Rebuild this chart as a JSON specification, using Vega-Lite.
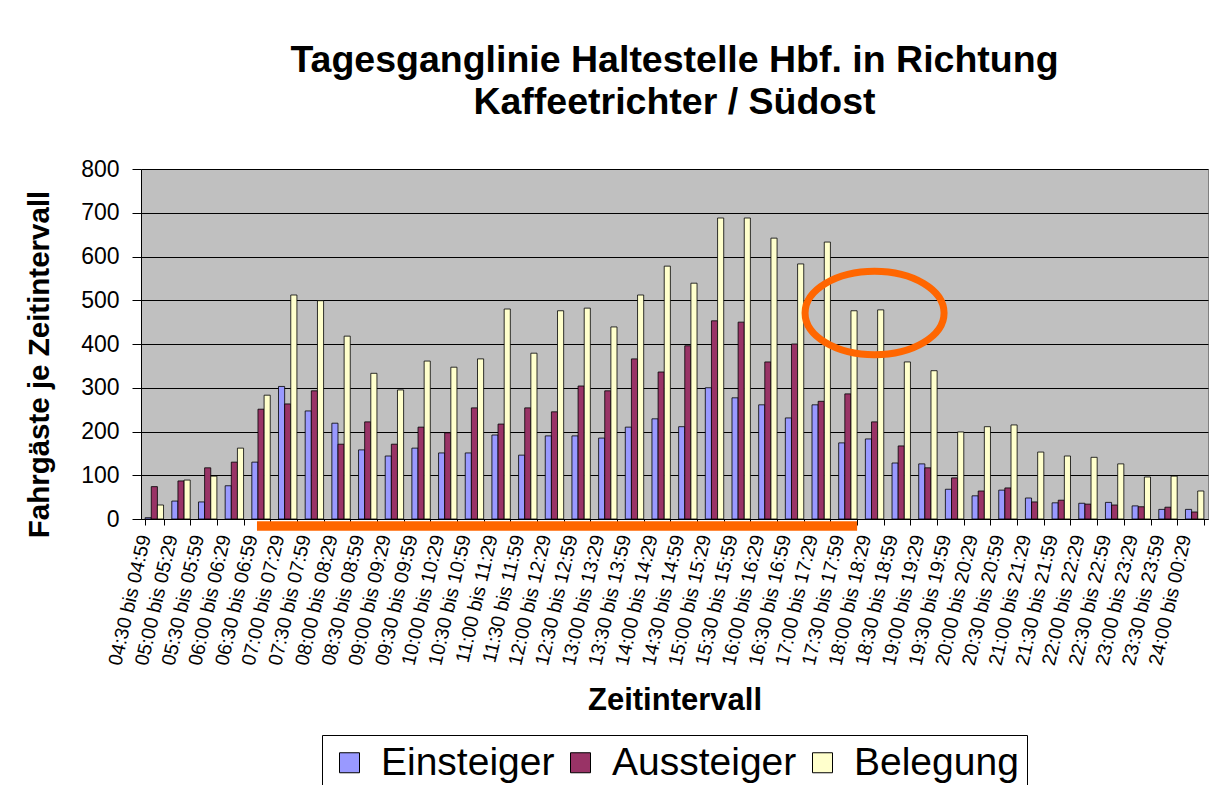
{
  "$schema": "https://vega.github.io/schema/vega-lite/v6.json",
  "width": 1067,
  "height": 350,
  "autosize": {"type": "none"},
  "padding": {"left": 141, "top": 169, "right": 8, "bottom": 266},
  "background": "white",
  "title": {
    "text": ["Tagesganglinie Haltestelle Hbf. in Richtung", "Kaffeetrichter / Südost"],
    "font": "Liberation Sans",
    "fontSize": 37.5,
    "fontWeight": "bold",
    "color": "black",
    "anchor": "middle",
    "frame": "group",
    "baseline": "bottom",
    "lineHeight": 42,
    "offset": -1
  },
  "config": {
    "font": "Liberation Sans",
    "view": {"fill": "#C0C0C0", "stroke": "#808080", "strokeWidth": 1}
  },
  "layer": [
    {
      "data": {
        "values": [
          {"Zeitintervall": "04:30 bis 04:59", "Reihe": "Einsteiger", "Anzahl": 3},
          {"Zeitintervall": "04:30 bis 04:59", "Reihe": "Aussteiger", "Anzahl": 74},
          {"Zeitintervall": "04:30 bis 04:59", "Reihe": "Belegung", "Anzahl": 32},
          {"Zeitintervall": "05:00 bis 05:29", "Reihe": "Einsteiger", "Anzahl": 41},
          {"Zeitintervall": "05:00 bis 05:29", "Reihe": "Aussteiger", "Anzahl": 87},
          {"Zeitintervall": "05:00 bis 05:29", "Reihe": "Belegung", "Anzahl": 89},
          {"Zeitintervall": "05:30 bis 05:59", "Reihe": "Einsteiger", "Anzahl": 39},
          {"Zeitintervall": "05:30 bis 05:59", "Reihe": "Aussteiger", "Anzahl": 117},
          {"Zeitintervall": "05:30 bis 05:59", "Reihe": "Belegung", "Anzahl": 98},
          {"Zeitintervall": "06:00 bis 06:29", "Reihe": "Einsteiger", "Anzahl": 76},
          {"Zeitintervall": "06:00 bis 06:29", "Reihe": "Aussteiger", "Anzahl": 130},
          {"Zeitintervall": "06:00 bis 06:29", "Reihe": "Belegung", "Anzahl": 162},
          {"Zeitintervall": "06:30 bis 06:59", "Reihe": "Einsteiger", "Anzahl": 130},
          {"Zeitintervall": "06:30 bis 06:59", "Reihe": "Aussteiger", "Anzahl": 251},
          {"Zeitintervall": "06:30 bis 06:59", "Reihe": "Belegung", "Anzahl": 283},
          {"Zeitintervall": "07:00 bis 07:29", "Reihe": "Einsteiger", "Anzahl": 303},
          {"Zeitintervall": "07:00 bis 07:29", "Reihe": "Aussteiger", "Anzahl": 263},
          {"Zeitintervall": "07:00 bis 07:29", "Reihe": "Belegung", "Anzahl": 512},
          {"Zeitintervall": "07:30 bis 07:59", "Reihe": "Einsteiger", "Anzahl": 247},
          {"Zeitintervall": "07:30 bis 07:59", "Reihe": "Aussteiger", "Anzahl": 293},
          {"Zeitintervall": "07:30 bis 07:59", "Reihe": "Belegung", "Anzahl": 499},
          {"Zeitintervall": "08:00 bis 08:29", "Reihe": "Einsteiger", "Anzahl": 219},
          {"Zeitintervall": "08:00 bis 08:29", "Reihe": "Aussteiger", "Anzahl": 171},
          {"Zeitintervall": "08:00 bis 08:29", "Reihe": "Belegung", "Anzahl": 418},
          {"Zeitintervall": "08:30 bis 08:59", "Reihe": "Einsteiger", "Anzahl": 158},
          {"Zeitintervall": "08:30 bis 08:59", "Reihe": "Aussteiger", "Anzahl": 222},
          {"Zeitintervall": "08:30 bis 08:59", "Reihe": "Belegung", "Anzahl": 333},
          {"Zeitintervall": "09:00 bis 09:29", "Reihe": "Einsteiger", "Anzahl": 144},
          {"Zeitintervall": "09:00 bis 09:29", "Reihe": "Aussteiger", "Anzahl": 171},
          {"Zeitintervall": "09:00 bis 09:29", "Reihe": "Belegung", "Anzahl": 295},
          {"Zeitintervall": "09:30 bis 09:59", "Reihe": "Einsteiger", "Anzahl": 162},
          {"Zeitintervall": "09:30 bis 09:59", "Reihe": "Aussteiger", "Anzahl": 210},
          {"Zeitintervall": "09:30 bis 09:59", "Reihe": "Belegung", "Anzahl": 361},
          {"Zeitintervall": "10:00 bis 10:29", "Reihe": "Einsteiger", "Anzahl": 151},
          {"Zeitintervall": "10:00 bis 10:29", "Reihe": "Aussteiger", "Anzahl": 197},
          {"Zeitintervall": "10:00 bis 10:29", "Reihe": "Belegung", "Anzahl": 347},
          {"Zeitintervall": "10:30 bis 10:59", "Reihe": "Einsteiger", "Anzahl": 151},
          {"Zeitintervall": "10:30 bis 10:59", "Reihe": "Aussteiger", "Anzahl": 254},
          {"Zeitintervall": "10:30 bis 10:59", "Reihe": "Belegung", "Anzahl": 366},
          {"Zeitintervall": "11:00 bis 11:29", "Reihe": "Einsteiger", "Anzahl": 192},
          {"Zeitintervall": "11:00 bis 11:29", "Reihe": "Aussteiger", "Anzahl": 217},
          {"Zeitintervall": "11:00 bis 11:29", "Reihe": "Belegung", "Anzahl": 480},
          {"Zeitintervall": "11:30 bis 11:59", "Reihe": "Einsteiger", "Anzahl": 146},
          {"Zeitintervall": "11:30 bis 11:59", "Reihe": "Aussteiger", "Anzahl": 254},
          {"Zeitintervall": "11:30 bis 11:59", "Reihe": "Belegung", "Anzahl": 379},
          {"Zeitintervall": "12:00 bis 12:29", "Reihe": "Einsteiger", "Anzahl": 190},
          {"Zeitintervall": "12:00 bis 12:29", "Reihe": "Aussteiger", "Anzahl": 245},
          {"Zeitintervall": "12:00 bis 12:29", "Reihe": "Belegung", "Anzahl": 476},
          {"Zeitintervall": "12:30 bis 12:59", "Reihe": "Einsteiger", "Anzahl": 190},
          {"Zeitintervall": "12:30 bis 12:59", "Reihe": "Aussteiger", "Anzahl": 304},
          {"Zeitintervall": "12:30 bis 12:59", "Reihe": "Belegung", "Anzahl": 482},
          {"Zeitintervall": "13:00 bis 13:29", "Reihe": "Einsteiger", "Anzahl": 185},
          {"Zeitintervall": "13:00 bis 13:29", "Reihe": "Aussteiger", "Anzahl": 293},
          {"Zeitintervall": "13:00 bis 13:29", "Reihe": "Belegung", "Anzahl": 439},
          {"Zeitintervall": "13:30 bis 13:59", "Reihe": "Einsteiger", "Anzahl": 210},
          {"Zeitintervall": "13:30 bis 13:59", "Reihe": "Aussteiger", "Anzahl": 366},
          {"Zeitintervall": "13:30 bis 13:59", "Reihe": "Belegung", "Anzahl": 512},
          {"Zeitintervall": "14:00 bis 14:29", "Reihe": "Einsteiger", "Anzahl": 229},
          {"Zeitintervall": "14:00 bis 14:29", "Reihe": "Aussteiger", "Anzahl": 336},
          {"Zeitintervall": "14:00 bis 14:29", "Reihe": "Belegung", "Anzahl": 578},
          {"Zeitintervall": "14:30 bis 14:59", "Reihe": "Einsteiger", "Anzahl": 211},
          {"Zeitintervall": "14:30 bis 14:59", "Reihe": "Aussteiger", "Anzahl": 396},
          {"Zeitintervall": "14:30 bis 14:59", "Reihe": "Belegung", "Anzahl": 539},
          {"Zeitintervall": "15:00 bis 15:29", "Reihe": "Einsteiger", "Anzahl": 300},
          {"Zeitintervall": "15:00 bis 15:29", "Reihe": "Aussteiger", "Anzahl": 453},
          {"Zeitintervall": "15:00 bis 15:29", "Reihe": "Belegung", "Anzahl": 688},
          {"Zeitintervall": "15:30 bis 15:59", "Reihe": "Einsteiger", "Anzahl": 277},
          {"Zeitintervall": "15:30 bis 15:59", "Reihe": "Aussteiger", "Anzahl": 450},
          {"Zeitintervall": "15:30 bis 15:59", "Reihe": "Belegung", "Anzahl": 688},
          {"Zeitintervall": "16:00 bis 16:29", "Reihe": "Einsteiger", "Anzahl": 261},
          {"Zeitintervall": "16:00 bis 16:29", "Reihe": "Aussteiger", "Anzahl": 359},
          {"Zeitintervall": "16:00 bis 16:29", "Reihe": "Belegung", "Anzahl": 642},
          {"Zeitintervall": "16:30 bis 16:59", "Reihe": "Einsteiger", "Anzahl": 231},
          {"Zeitintervall": "16:30 bis 16:59", "Reihe": "Aussteiger", "Anzahl": 400},
          {"Zeitintervall": "16:30 bis 16:59", "Reihe": "Belegung", "Anzahl": 583},
          {"Zeitintervall": "17:00 bis 17:29", "Reihe": "Einsteiger", "Anzahl": 261},
          {"Zeitintervall": "17:00 bis 17:29", "Reihe": "Aussteiger", "Anzahl": 269},
          {"Zeitintervall": "17:00 bis 17:29", "Reihe": "Belegung", "Anzahl": 633},
          {"Zeitintervall": "17:30 bis 17:59", "Reihe": "Einsteiger", "Anzahl": 174},
          {"Zeitintervall": "17:30 bis 17:59", "Reihe": "Aussteiger", "Anzahl": 286},
          {"Zeitintervall": "17:30 bis 17:59", "Reihe": "Belegung", "Anzahl": 476},
          {"Zeitintervall": "18:00 bis 18:29", "Reihe": "Einsteiger", "Anzahl": 183},
          {"Zeitintervall": "18:00 bis 18:29", "Reihe": "Aussteiger", "Anzahl": 222},
          {"Zeitintervall": "18:00 bis 18:29", "Reihe": "Belegung", "Anzahl": 478},
          {"Zeitintervall": "18:30 bis 18:59", "Reihe": "Einsteiger", "Anzahl": 128},
          {"Zeitintervall": "18:30 bis 18:59", "Reihe": "Aussteiger", "Anzahl": 167},
          {"Zeitintervall": "18:30 bis 18:59", "Reihe": "Belegung", "Anzahl": 359},
          {"Zeitintervall": "19:00 bis 19:29", "Reihe": "Einsteiger", "Anzahl": 126},
          {"Zeitintervall": "19:00 bis 19:29", "Reihe": "Aussteiger", "Anzahl": 117},
          {"Zeitintervall": "19:00 bis 19:29", "Reihe": "Belegung", "Anzahl": 339},
          {"Zeitintervall": "19:30 bis 19:59", "Reihe": "Einsteiger", "Anzahl": 68},
          {"Zeitintervall": "19:30 bis 19:59", "Reihe": "Aussteiger", "Anzahl": 94},
          {"Zeitintervall": "19:30 bis 19:59", "Reihe": "Belegung", "Anzahl": 199},
          {"Zeitintervall": "20:00 bis 20:29", "Reihe": "Einsteiger", "Anzahl": 53},
          {"Zeitintervall": "20:00 bis 20:29", "Reihe": "Aussteiger", "Anzahl": 64},
          {"Zeitintervall": "20:00 bis 20:29", "Reihe": "Belegung", "Anzahl": 211},
          {"Zeitintervall": "20:30 bis 20:59", "Reihe": "Einsteiger", "Anzahl": 66},
          {"Zeitintervall": "20:30 bis 20:59", "Reihe": "Aussteiger", "Anzahl": 71},
          {"Zeitintervall": "20:30 bis 20:59", "Reihe": "Belegung", "Anzahl": 215},
          {"Zeitintervall": "21:00 bis 21:29", "Reihe": "Einsteiger", "Anzahl": 48},
          {"Zeitintervall": "21:00 bis 21:29", "Reihe": "Aussteiger", "Anzahl": 39},
          {"Zeitintervall": "21:00 bis 21:29", "Reihe": "Belegung", "Anzahl": 153},
          {"Zeitintervall": "21:30 bis 21:59", "Reihe": "Einsteiger", "Anzahl": 37},
          {"Zeitintervall": "21:30 bis 21:59", "Reihe": "Aussteiger", "Anzahl": 43},
          {"Zeitintervall": "21:30 bis 21:59", "Reihe": "Belegung", "Anzahl": 144},
          {"Zeitintervall": "22:00 bis 22:29", "Reihe": "Einsteiger", "Anzahl": 36},
          {"Zeitintervall": "22:00 bis 22:29", "Reihe": "Aussteiger", "Anzahl": 34},
          {"Zeitintervall": "22:00 bis 22:29", "Reihe": "Belegung", "Anzahl": 141},
          {"Zeitintervall": "22:30 bis 22:59", "Reihe": "Einsteiger", "Anzahl": 38},
          {"Zeitintervall": "22:30 bis 22:59", "Reihe": "Aussteiger", "Anzahl": 32},
          {"Zeitintervall": "22:30 bis 22:59", "Reihe": "Belegung", "Anzahl": 126},
          {"Zeitintervall": "23:00 bis 23:29", "Reihe": "Einsteiger", "Anzahl": 30},
          {"Zeitintervall": "23:00 bis 23:29", "Reihe": "Aussteiger", "Anzahl": 28},
          {"Zeitintervall": "23:00 bis 23:29", "Reihe": "Belegung", "Anzahl": 96},
          {"Zeitintervall": "23:30 bis 23:59", "Reihe": "Einsteiger", "Anzahl": 22},
          {"Zeitintervall": "23:30 bis 23:59", "Reihe": "Aussteiger", "Anzahl": 27},
          {"Zeitintervall": "23:30 bis 23:59", "Reihe": "Belegung", "Anzahl": 98},
          {"Zeitintervall": "24:00 bis 00:29", "Reihe": "Einsteiger", "Anzahl": 22},
          {"Zeitintervall": "24:00 bis 00:29", "Reihe": "Aussteiger", "Anzahl": 16},
          {"Zeitintervall": "24:00 bis 00:29", "Reihe": "Belegung", "Anzahl": 64}
        ]
      },
      "mark": {"type": "bar", "stroke": "black", "strokeWidth": 0.8},
      "encoding": {
        "x": {
          "field": "Zeitintervall",
          "type": "nominal",
          "scale": {
            "domain": ["04:30 bis 04:59", "05:00 bis 05:29", "05:30 bis 05:59", "06:00 bis 06:29", "06:30 bis 06:59", "07:00 bis 07:29", "07:30 bis 07:59", "08:00 bis 08:29", "08:30 bis 08:59", "09:00 bis 09:29", "09:30 bis 09:59", "10:00 bis 10:29", "10:30 bis 10:59", "11:00 bis 11:29", "11:30 bis 11:59", "12:00 bis 12:29", "12:30 bis 12:59", "13:00 bis 13:29", "13:30 bis 13:59", "14:00 bis 14:29", "14:30 bis 14:59", "15:00 bis 15:29", "15:30 bis 15:59", "16:00 bis 16:29", "16:30 bis 16:59", "17:00 bis 17:29", "17:30 bis 17:59", "18:00 bis 18:29", "18:30 bis 18:59", "19:00 bis 19:29", "19:30 bis 19:59", "20:00 bis 20:29", "20:30 bis 20:59", "21:00 bis 21:29", "21:30 bis 21:59", "22:00 bis 22:29", "22:30 bis 22:59", "23:00 bis 23:29", "23:30 bis 23:59", "24:00 bis 00:29"],
            "paddingInner": 0.31,
            "paddingOuter": 0.155
          },
          "axis": {
            "title": "Zeitintervall",
            "titleFont": "Liberation Sans",
            "titleFontSize": 31,
            "titleFontWeight": "bold",
            "titleColor": "black",
            "titlePadding": 19,
            "labelFont": "Liberation Sans",
            "labelFontSize": 19.5,
            "labelColor": "black",
            "labelAngle": -77,
            "labelAlign": "right",
            "labelBaseline": "bottom",
            "labelPadding": 12,
            "labelOverlap": false,
            "labelLimit": 0,
            "tickBand": "extent",
            "tickSize": 6,
            "tickColor": "black",
            "domainColor": "black",
            "grid": false
          }
        },
        "xOffset": {
          "field": "Reihe",
          "type": "nominal",
          "scale": {"domain": ["Einsteiger", "Aussteiger", "Belegung"], "paddingInner": 0, "paddingOuter": 0}
        },
        "y": {
          "field": "Anzahl",
          "type": "quantitative",
          "scale": {"domain": [0, 800], "nice": false},
          "axis": {
            "title": "Fahrgäste je Zeitintervall",
            "titleFont": "Liberation Sans",
            "titleFontSize": 29.5,
            "titleFontWeight": "bold",
            "titleColor": "black",
            "titlePadding": 26,
            "titleY": 195,
            "values": [0, 100, 200, 300, 400, 500, 600, 700, 800],
            "labelFont": "Liberation Sans",
            "labelFontSize": 23,
            "labelColor": "black",
            "labelPadding": 13,
            "tickSize": 9,
            "tickColor": "black",
            "domainColor": "black",
            "grid": true,
            "gridColor": "black",
            "gridWidth": 1,
            "gridOpacity": 1
          }
        },
        "color": {
          "field": "Reihe",
          "type": "nominal",
          "scale": {"domain": ["Einsteiger", "Aussteiger", "Belegung"], "range": ["#9999FF", "#993366", "#FFFFCC"]},
          "legend": {
            "title": null,
            "orient": "none",
            "legendX": 181,
            "legendY": 566,
            "direction": "horizontal",
            "columns": 3,
            "labelFont": "Liberation Sans",
            "labelFontSize": 39,
            "labelColor": "black",
            "labelLimit": 0,
            "labelOffset": 12,
            "symbolType": "square",
            "symbolSize": 400,
            "symbolStrokeColor": "black",
            "symbolStrokeWidth": 1,
            "columnPadding": 6,
            "strokeColor": "black",
            "fillColor": "white",
            "padding": 8
          }
        }
      }
    },
    {
      "data": {"values": [{"Zeitintervall": "06:30 bis 06:59", "bis": "17:30 bis 17:59"}]},
      "mark": {"type": "rect", "color": "#FF6600"},
      "encoding": {
        "x": {"field": "Zeitintervall", "type": "nominal", "bandPosition": 0.28},
        "x2": {"field": "bis", "bandPosition": 1},
        "y": {"datum": -5},
        "y2": {"datum": -27}
      }
    },
    {
      "data": {"values": [{"Zeitintervall": "18:00 bis 18:29"}]},
      "mark": {
        "type": "point",
        "shape": "M -1 0 C -1 -0.3314 -0.5523 -0.6 0 -0.6 C 0.5523 -0.6 1 -0.3314 1 0 C 1 0.3314 0.5523 0.6 0 0.6 C -0.5523 0.6 -1 0.3314 -1 0 Z",
        "size": 19321,
        "filled": false,
        "stroke": "#FF6600",
        "strokeWidth": 7,
        "opacity": 1
      },
      "encoding": {
        "x": {"field": "Zeitintervall", "type": "nominal"},
        "y": {"datum": 471}
      }
    }
  ]
}
